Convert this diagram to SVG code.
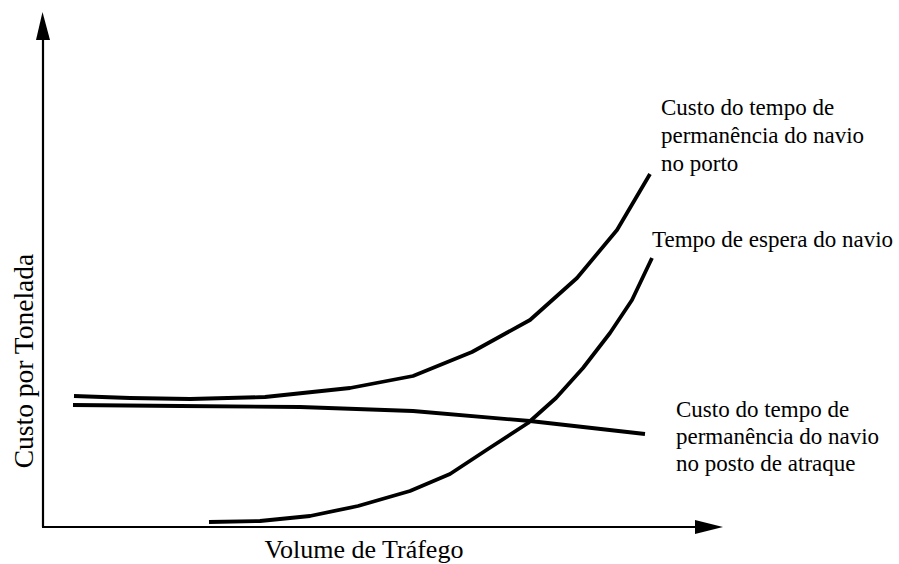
<svg xmlns="http://www.w3.org/2000/svg" width="899" height="564" viewBox="0 0 899 564">
<style>
.t{font-family:"Liberation Serif","Times New Roman",serif;font-size:23px;fill:#000}
.big{font-size:26px}
.c{fill:none;stroke:#000;stroke-width:3.8;stroke-linejoin:round;stroke-linecap:butt}
.ax{fill:none;stroke:#000;stroke-width:2.2}
</style>
<rect width="899" height="564" fill="#fff"/>
<g id="axes">
<path class="ax" d="M43,527 L43,40"/>
<path d="M36,40 L42.5,12 L50,40 Z" fill="#000"/>
<path class="ax" d="M42,527 L696,527"/>
<path d="M695,520 L723,527 L695,534 Z" fill="#000"/>
</g>
<g id="connectors">
<polyline id="curve-porto" class="c" points="74,396 130,398 190,399 265,397 350,388 413,376 472,352 530,320 577,278 617,230 650,174"/>
<polyline id="curve-atraque" class="c" points="73,405 180,406 300,407 413,411 530,421 645,434"/>
<polyline id="curve-espera" class="c" points="209,522 260,521 310,516 358,506 410,491 450,474 488,449 528,423 556,398 583,368 610,333 632,300 652,258"/>
</g>
<g id="label-porto">
<text class="t" x="661" y="115">Custo do tempo de</text>
<text class="t" x="661" y="143">permanência do navio</text>
<text class="t" x="661" y="171">no porto</text>
</g>
<g id="label-espera">
<text class="t" x="652" y="247">Tempo de espera do navio</text>
</g>
<g id="label-atraque">
<text class="t" x="676" y="417">Custo do tempo de</text>
<text class="t" x="676" y="444">permanência do navio</text>
<text class="t" x="676" y="471">no posto de atraque</text>
</g>
<g id="label-x">
<text class="t big" x="364" y="558" text-anchor="middle">Volume de Tráfego</text>
</g>
<g id="label-y">
<text class="t big" style="font-size:27.5px" transform="translate(33,361) rotate(-90)" text-anchor="middle">Custo por Tonelada</text>
</g>
</svg>
